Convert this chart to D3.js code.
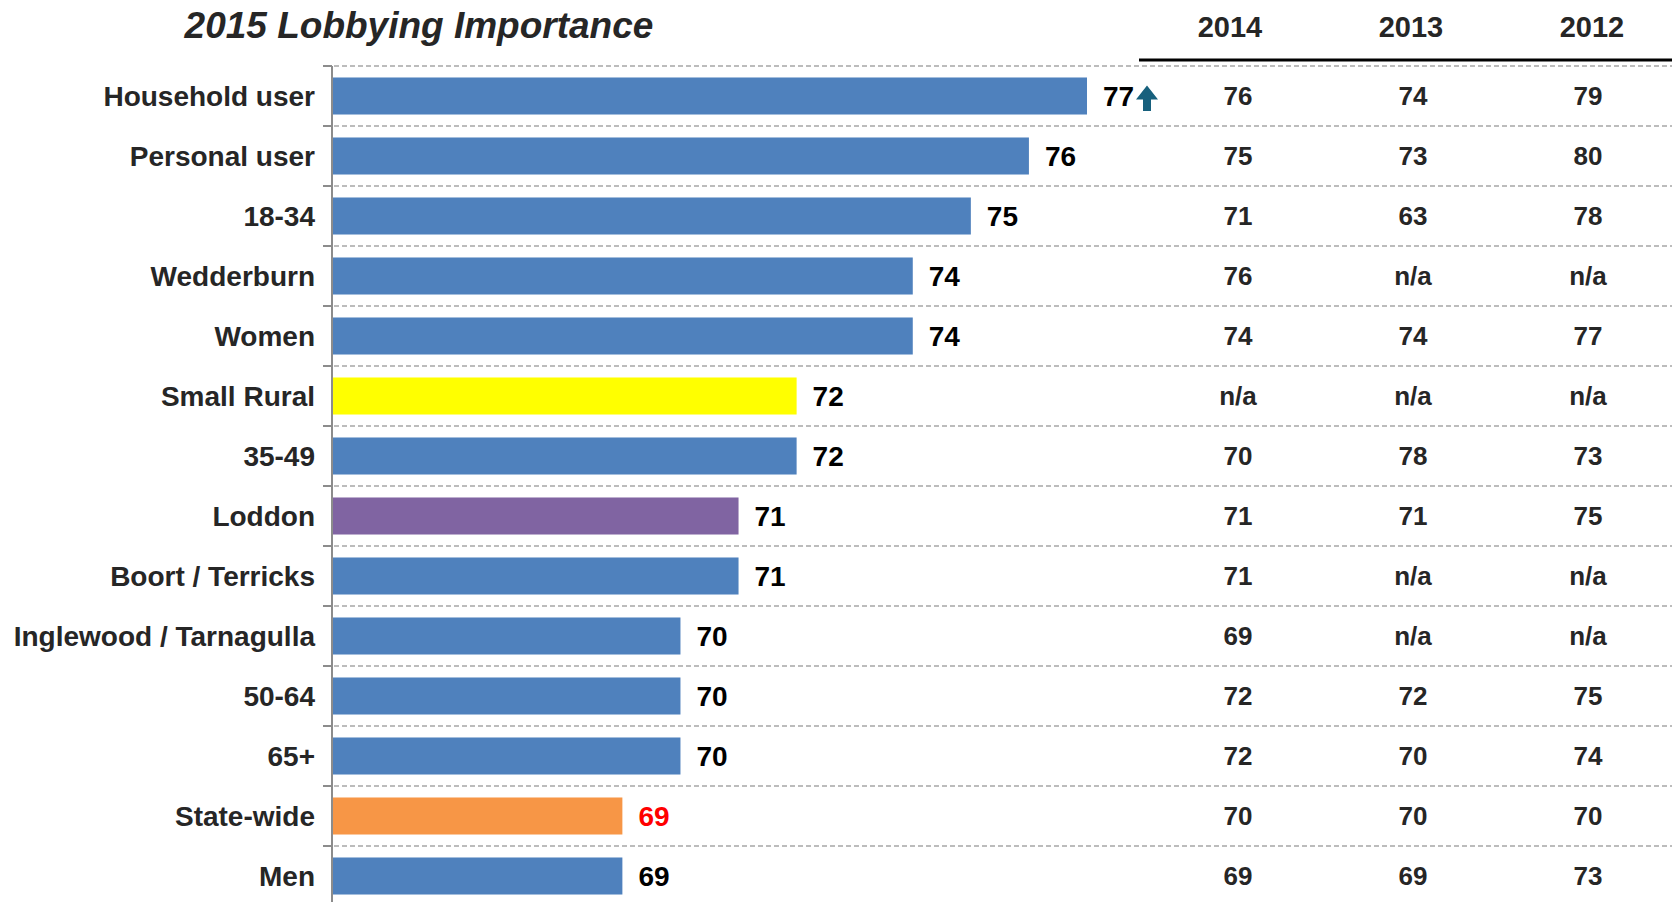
<!DOCTYPE html>
<html>
<head>
<meta charset="utf-8">
<script src="https://cdn.jsdelivr.net/npm/d3@7"></script>
<style>
  html, body { margin: 0; padding: 0; background: #fff; }
  svg text { font-family: "Liberation Sans", Arial, sans-serif; font-weight: bold; }
</style>
</head>
<body>
<div id="chart"></div>
<script>
// chart size
const width = 1672;
const height = 902;

// data
const categories = ["Household user", "Personal user", "18-34", "Wedderburn", "Women", "Small Rural",
    "35-49", "Loddon", "Boort / Terricks", "Inglewood / Tarnagulla", "50-64", "65+", "State-wide", "Men"];
const values2015 = [77, 76, 75, 74, 74, 72, 72, 71, 71, 70, 70, 70, 69, 69];
const years = ["2014", "2013", "2012"];
const values2014 = ["76", "75", "71", "76", "74", "n/a", "70", "71", "71", "69", "72", "72", "70", "69"];
const values2013 = ["74", "73", "63", "n/a", "74", "n/a", "78", "71", "n/a", "n/a", "72", "70", "70", "69"];
const values2012 = ["79", "80", "78", "n/a", "77", "n/a", "73", "75", "n/a", "n/a", "75", "74", "70", "73"];
const upArrow = ["Household user"];   // significantly higher than state-wide

// bar colours (default blue)
const barColor = {"Small Rural": "#FFFF00", "Loddon": "#8064A2", "State-wide": "#F79646"};

const table = categories.map((c, i) => ({cat: c, v: values2015[i], prev: [values2014[i], values2013[i], values2012[i]]}));

const svg = d3.select("#chart")
    .append("svg")
    .attr("width", width)
    .attr("height", height);

const x = d3.scaleLinear()
    .domain([64, 77])
    .range([332, 1087]);

const y = d3.scaleBand()
    .domain(categories)
    .range([66, 906])
    .paddingInner(0.383)
    .paddingOuter(0.1915);

const step = y.step();
const rowTop = c => y(c) - step * y.paddingInner() / 2;
const rowMid = c => y(c) + y.bandwidth() / 2;

// header and value columns sit slightly apart in the original
const colHead = d3.scalePoint().domain(years).range([1230, 1592]);
const col = d3.scalePoint().domain(years).range([1238, 1588]);

// title
svg.append("text")
    .attr("x", 419)
    .attr("y", 38)
    .attr("text-anchor", "middle")
    .style("font-size", "37px")
    .style("font-style", "italic")
    .attr("fill", "#262626")
    .text("2015 Lobbying Importance");

// year headers + rule
svg.selectAll("text.year")
    .data(years)
    .enter()
    .append("text")
    .attr("class", "year")
    .attr("x", d => colHead(d))
    .attr("y", 37)
    .attr("text-anchor", "middle")
    .style("font-size", "29px")
    .attr("fill", "#262626")
    .text(d => d);

svg.append("line")
    .attr("x1", 1139).attr("x2", width)
    .attr("y1", 60).attr("y2", 60)
    .attr("stroke", "#000")
    .attr("stroke-width", 3);

// dashed row separators
const gridY = categories.map(rowTop);
svg.selectAll("line.grid")
    .data(gridY)
    .enter()
    .append("line")
    .attr("class", "grid")
    .attr("x1", x.range()[0] + 2).attr("x2", width)
    .attr("y1", d => d).attr("y2", d => d)
    .attr("stroke", "#a6a6a6")
    .attr("stroke-width", 1.3)
    .attr("stroke-dasharray", "5,3");

// bars
svg.selectAll("rect.bar")
    .data(table)
    .enter()
    .append("rect")
    .attr("class", "bar")
    .attr("x", x.range()[0])
    .attr("y", d => y(d.cat))
    .attr("width", d => x(d.v) - x.range()[0])
    .attr("height", y.bandwidth())
    .attr("fill", d => barColor[d.cat] || "#4F81BD");

// axis line with ticks at the separators
svg.append("line")
    .attr("x1", 332).attr("x2", 332)
    .attr("y1", 66).attr("y2", height)
    .attr("stroke", "#8c8c8c")
    .attr("stroke-width", 2);
svg.selectAll("line.tick")
    .data(gridY)
    .enter()
    .append("line")
    .attr("class", "tick")
    .attr("x1", 323).attr("x2", 332)
    .attr("y1", d => d).attr("y2", d => d)
    .attr("stroke", "#8c8c8c")
    .attr("stroke-width", 2);

// category labels
svg.selectAll("text.cat")
    .data(categories)
    .enter()
    .append("text")
    .attr("class", "cat")
    .attr("x", 315)
    .attr("y", d => rowMid(d))
    .attr("dy", "0.36em")
    .attr("text-anchor", "end")
    .style("font-size", "28px")
    .attr("fill", "#262626")
    .text(d => d);

// value labels
svg.selectAll("text.val")
    .data(table)
    .enter()
    .append("text")
    .attr("class", "val")
    .attr("x", d => x(d.v) + 16)
    .attr("y", d => rowMid(d.cat))
    .attr("dy", "0.36em")
    .style("font-size", "28px")
    .attr("fill", d => d.cat == "State-wide" ? "#FF0000" : "#000")
    .text(d => d.v);

// up arrow
table.filter(d => upArrow.includes(d.cat)).forEach(d => {
    const ax = x(d.v) + 60, ay = rowMid(d.cat);
    svg.append("path")
        .attr("d", `M${ax},${ay - 10.5} L${ax + 11},${ay + 3.5} L${ax + 4},${ay + 3.5} L${ax + 4},${ay + 15}
                    L${ax - 4},${ay + 15} L${ax - 4},${ay + 3.5} L${ax - 11},${ay + 3.5} Z`)
        .attr("fill", "#17607D");
});

// previous years table
years.forEach((yr, j) => {
    svg.selectAll("text.prev" + yr)
        .data(table)
        .enter()
        .append("text")
        .attr("x", col(yr))
        .attr("y", d => rowMid(d.cat))
        .attr("dy", "0.36em")
        .attr("text-anchor", "middle")
        .style("font-size", "26px")
        .attr("fill", "#262626")
        .text(d => d.prev[j]);
});
</script>
</body>
</html>
